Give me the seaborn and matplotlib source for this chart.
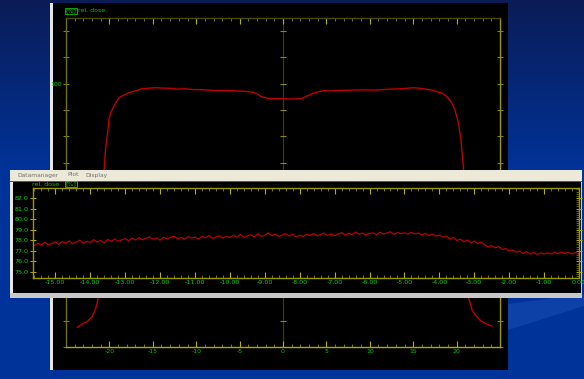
import numpy as np
import matplotlib
matplotlib.use("Agg")
import matplotlib.pyplot as plt
from matplotlib.patches import Rectangle, Polygon
from matplotlib.ticker import MultipleLocator, FixedLocator
import seaborn as sns

W, H = 584, 379

# --- data ---

# full field profile, top window (position in cm, dose in %)
profile_pos = [-23.7, -23.2, -22.5, -22.0, -21.7, -21.5, -21.3, -21.1, -20.9, -20.75,
               -20.6, -20.45, -20.2, -20.05, -19.8, -19.5, -19.2, -18.9, -18.4, -17.8,
               -17.0, -16.3, -15.5, -14.8, -14.0, -13.0, -12.2, -11.3, -10.4, -9.5,
               -8.5, -7.5, -6.5, -5.5, -4.7, -4.0, -3.5, -3.0, -2.5, -1.9,
               -1.4, -0.7, 0.0, 0.7, 1.3, 2.1, 2.8, 3.6, 4.7, 5.6,
               6.5, 7.8, 9.3, 10.6, 12.0, 13.5, 15.0, 15.8, 16.5, 17.2,
               17.8, 18.4, 18.9, 19.4, 19.8, 20.2, 20.5, 20.8, 21.0, 21.2,
               21.4, 21.8, 22.2, 22.7, 23.4, 24.1]
profile_dose = [7.5, 8.6, 9.8, 11.5, 13.6, 15.5, 18.5, 22.5, 32.0, 45.0,
                67.5, 75.0, 81.5, 86.4, 89.5, 91.3, 93.2, 94.7, 95.6, 96.6,
                97.3, 98.1, 98.3, 98.5, 98.4, 98.3, 98.0, 98.1, 97.8, 97.8,
                97.6, 97.4, 97.5, 97.3, 97.2, 97.0, 96.8, 96.2, 95.1, 94.6,
                94.3, 94.4, 94.4, 94.2, 94.3, 94.3, 95.4, 96.6, 97.4, 97.3,
                97.5, 97.6, 97.7, 97.6, 97.9, 98.1, 98.5, 98.3, 97.9, 97.6,
                97.0, 96.3, 95.1, 93.0, 90.2, 85.3, 78.9, 67.5, 45.0, 25.0,
                18.5, 14.0, 12.0, 10.2, 8.8, 7.9]

# zoomed section, lower window (dose in %, sampled every 0.1 cm from -15.6 to 0)
zoom_start, zoom_end = -15.6, 0.0
zoom_dose = [
    77.50, 77.72, 77.55, 77.80, 77.58, 77.68, 77.85,
    77.62, 77.88, 77.70, 77.95, 77.66, 77.82, 78.00, 77.72, 77.90, 77.78,
    78.05, 77.82, 77.98, 77.76, 78.08, 77.88, 78.12, 77.90, 78.02, 78.15,
    77.95, 78.20, 78.02, 78.26, 78.05, 78.18, 78.32, 78.08, 78.22, 78.00,
    78.30, 78.12, 78.28, 78.40, 78.15, 78.26, 78.08, 78.35, 78.20, 78.30,
    78.10, 78.36, 78.22, 78.45, 78.18, 78.30, 78.42, 78.20, 78.38, 78.25,
    78.48, 78.30, 78.55, 78.28, 78.40, 78.52, 78.32, 78.62, 78.38, 78.46,
    78.70, 78.42, 78.58, 78.35, 78.50, 78.62, 78.40, 78.55, 78.30, 78.48,
    78.36, 78.58, 78.44, 78.64, 78.40, 78.55, 78.68, 78.46, 78.60, 78.42,
    78.58, 78.72, 78.48, 78.66, 78.52, 78.78, 78.56, 78.68, 78.50, 78.64,
    78.70, 78.52, 78.76, 78.58, 78.68, 78.80, 78.56, 78.72, 78.62, 78.70,
    78.58, 78.74, 78.60, 78.68, 78.50, 78.66, 78.45, 78.58, 78.38, 78.50,
    78.28, 78.40, 78.12, 78.26, 77.98, 78.10, 77.85, 78.02, 77.78, 77.92,
    77.70, 77.82, 77.55, 77.36, 77.50, 77.28, 77.40, 77.12, 77.22, 76.98,
    77.08, 76.86, 76.98, 76.75, 76.92, 76.70, 76.84, 76.66, 76.80, 76.70,
    76.82, 76.68, 76.88, 76.72, 76.90, 76.74, 76.86, 76.70, 76.84, 76.62]

top_xticks = [-20, -15, -10, -5, 0, 5, 10, 15, 20]
top_yticks = [0, 10, 20, 30, 40, 50, 60, 70, 80, 90, 100, 110, 120]
zoom_xticks = [-15, -14, -13, -12, -11, -10, -9, -8, -7, -6, -5, -4, -3, -2, -1, 0]
zoom_yticks = [75, 76, 77, 78, 79, 80, 81, 82]
menu_items = ["Datamanager", "Plot", "Display"]

GREEN = "#00c800"
OLIVE = "#9a9a00"
RED = "#c00000"


def px_box(l, t, r, b):
    # pixel box -> figure fraction [left, bottom, width, height]
    return [l / W, 1 - b / H, (r - l) / W, (b - t) / H]


sns.set_theme(style="dark")
plt.rcParams["font.family"] = ["DejaVu Sans"]

fig = plt.figure(figsize=(W / 100, H / 100), dpi=100)

# --- slide background ---
bg = fig.add_axes([0, 0, 1, 1], zorder=0)
t = np.clip(np.linspace(0, 1, H) / 0.45, 0, 1)[:, None, None]
c0 = np.array([0.04, 0.11, 0.34])
c1 = np.array([0.0, 0.2, 0.6])
grad = c0 + (c1 - c0) * t
grad = np.repeat(grad, W, axis=1)
bg.imshow(grad, extent=(0, W, H, 0), aspect="auto")
bg.add_patch(Polygon([(508, 304), (584, 294), (584, 306), (508, 330)],
                     closed=True, color="#2457c0", alpha=0.4, lw=0))
bg.set_xlim(0, W)
bg.set_ylim(H, 0)
bg.axis("off")
bg.text(207, -4, "gy", color="white", fontsize=15, fontweight="bold", va="baseline")

# top window frame
bg.add_patch(Rectangle((50, 3), 2.5, 367, color="#e6e6e6", lw=0))
bg.add_patch(Rectangle((52.5, 3), 455.5, 367, color="black", lw=0))
bg.text(65.5, 11, "[%]", color=GREEN, fontsize=4.5, va="center", ha="left",
        bbox=dict(boxstyle="square,pad=0.15", fc="none", ec=GREEN, lw=0.6))
bg.text(78, 11, "rel. dose", color=GREEN, fontsize=4.5, va="center", ha="left")

# --- top plot: full profile ---
ax1 = fig.add_axes(px_box(66, 18, 500, 347), zorder=1)
ax1.set_facecolor("black")
ax1.axvline(0, color="#3c3c00", lw=0.9, zorder=0)
ax1.plot([0] * len(top_yticks), top_yticks, ls="none", marker="_", ms=5,
         mew=0.8, color="#8a8a00", zorder=1)
sns.lineplot(x=profile_pos, y=profile_dose, ax=ax1, color=RED, lw=1.0,
             estimator=None, zorder=2)
ax1.set_xlim(-25, 25)
ax1.set_ylim(0, 125)
ax1.xaxis.set_major_locator(FixedLocator(top_xticks))
ax1.xaxis.set_minor_locator(MultipleLocator(1))
ax1.set_xticklabels([str(v) for v in top_xticks])
ax1.set_yticks(top_yticks)
ax1.set_yticklabels([str(v) if v == 100 else "" for v in top_yticks])
ax1.tick_params(axis="x", which="major", direction="in", length=4, width=0.8,
                color="#b4b400", top=True, bottom=True, labelsize=4.5,
                labelcolor=GREEN, pad=1.5)
ax1.tick_params(axis="x", which="minor", direction="in", length=2, width=0.6,
                color="#8a8a00", top=True, bottom=True)
ax1.tick_params(axis="y", which="major", direction="inout", length=4, width=0.7,
                color="#8a8a00", left=True, right=True, labelsize=4.5,
                labelcolor=GREEN, pad=1)
ax1.spines["left"].set_color("#707010")
ax1.spines["top"].set_color("#4c4c00")
ax1.spines["right"].set_color("#9a9a00")
ax1.spines["bottom"].set_color("#aaaa00")
for s in ax1.spines.values():
    s.set_linewidth(1)
ax1.grid(False)
ax1.set_xlabel("")
ax1.set_ylabel("")

# --- lower window frame ---
ov = fig.add_axes([0, 0, 1, 1], zorder=3)
ov.set_xlim(0, W)
ov.set_ylim(H, 0)
ov.axis("off")
ov.patch.set_alpha(0)
ov.add_patch(Rectangle((10, 170), 572, 128, color="#c8c8c8", lw=0))
ov.add_patch(Rectangle((10, 170), 572, 10.5, color="#ece9d8", lw=0))
ov.add_patch(Rectangle((10, 180.5), 572, 1, color="#5a5a5a", lw=0))
ov.add_patch(Rectangle((10, 181.5), 3, 111, color="#e8e8e8", lw=0))
ov.add_patch(Rectangle((13, 181.5), 567.5, 111, color="black", lw=0))
for label, xpos in zip(menu_items, [17, 67, 85]):
    ov.text(xpos, 175, label, color="#707070", fontsize=4.3, va="center", ha="left")
ov.text(32, 184, "rel. dose", color=GREEN, fontsize=4.5, va="center", ha="left")
ov.text(65.5, 184, "[%]", color=GREEN, fontsize=4.5, va="center", ha="left",
        bbox=dict(boxstyle="square,pad=0.15", fc="none", ec="#00e000", lw=0.6))

# --- lower plot: zoomed section ---
ax2 = fig.add_axes(px_box(33, 188, 579, 278), zorder=4)
ax2.set_facecolor("black")
zoom_pos = np.linspace(zoom_start, zoom_end, len(zoom_dose))
sns.lineplot(x=zoom_pos, y=zoom_dose, ax=ax2, color="#b80000", lw=0.9,
             estimator=None)
ax2.set_xlim(-15.64, 0)
ax2.set_ylim(74.43, 82.94)
ax2.xaxis.set_major_locator(FixedLocator(zoom_xticks))
ax2.xaxis.set_minor_locator(MultipleLocator(0.2))
ax2.set_xticklabels([f"{v:.2f}" for v in zoom_xticks])
ax2.yaxis.set_major_locator(FixedLocator(zoom_yticks))
ax2.yaxis.set_minor_locator(MultipleLocator(0.2))
ax2.set_yticklabels([f"{v:.1f}" for v in zoom_yticks])
ax2.tick_params(axis="x", which="major", direction="in", length=4, width=0.8,
                color="#b4b400", top=True, bottom=True, labelsize=4.6,
                labelcolor="#00d800", pad=1.5)
ax2.tick_params(axis="x", which="minor", direction="in", length=2, width=0.6,
                color="#8a8a00", top=True, bottom=True)
ax2.tick_params(axis="y", which="major", direction="inout", length=4, width=0.7,
                color="#b4b400", left=True, right=True, labelsize=4.6,
                labelcolor="#00d800", pad=1)
ax2.tick_params(axis="y", which="minor", direction="in", length=2, width=0.5,
                color="#8a8a00", left=False, right=True)
for s in ax2.spines.values():
    s.set_color(OLIVE)
    s.set_linewidth(1)
ax2.grid(False)
ax2.set_xlabel("")
ax2.set_ylabel("")

fig.savefig("out.png", dpi=100)
